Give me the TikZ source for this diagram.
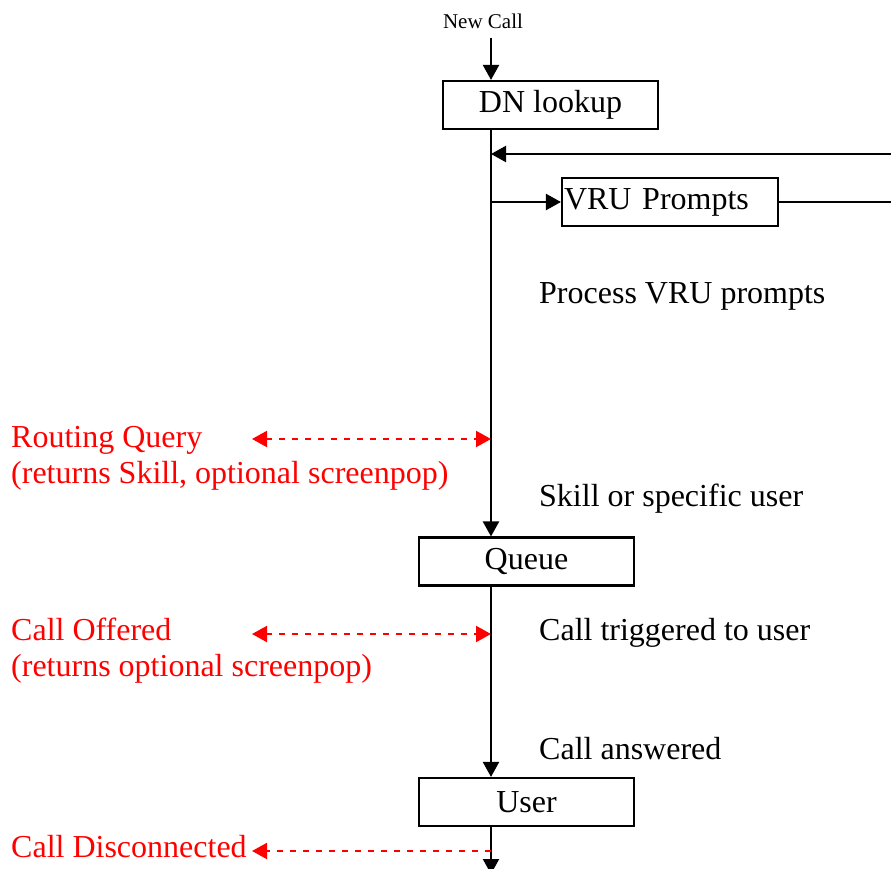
\documentclass[tikz,border=0pt]{standalone}
\usepackage{fontspec}
\setmainfont{Liberation Serif}
\usetikzlibrary{arrows.meta}
\definecolor{evred}{RGB}{255,0,0}
\tikzset{
  flowbox/.style={draw=black, line width=2.1pt, minimum width=215pt, minimum height=48pt,
    inner sep=0pt, font=\fontsize{32}{36}\selectfont},
  lbl/.style={anchor=base west, inner sep=0pt, font=\fontsize{32}{36}\selectfont},
  evlbl/.style={lbl, text=evred},
  flow/.style={draw=black, line width=2.1pt, -{Triangle[length=15pt,width=16pt]}},
  plain/.style={draw=black, line width=2.1pt},
  evarrow/.style={draw=evred, line width=2.1pt, dash pattern=on 6pt off 7pt,
    {Triangle[length=15pt,width=16pt]}-{Triangle[length=15pt,width=16pt]}},
  evout/.style={draw=evred, line width=2.1pt, dash pattern=on 6pt off 7pt,
    -{Triangle[length=15pt,width=16pt]}},
}
\begin{document}
\begin{tikzpicture}[x=1pt, y=-1pt]
\useasboundingbox (0,0) rectangle (891,869);
\clip (0,0) rectangle (891,869);

% vertical spine of the call flow
\coordinate (spine) at (491,0);

% step boxes
\node[flowbox] (dn) at (550.5,105) {DN lookup};
\node[flowbox, minimum width=216pt, text width=212pt, align=left, inner xsep=2pt] (vru) at (670,202) {VRU Prompts};
\node[flowbox] (queue) at (526.5,561.5) {Queue};
\node[flowbox] (user) at (526.5,802) {User};

% entry
\node[anchor=base, inner sep=0pt, font=\fontsize{21}{24}\selectfont] (newcall) at (483,29) {New Call};
\coordinate (ncTail) at (491,38);
\draw[flow] (ncTail) -- (dn.north -| spine);

% main flow
\draw[flow] (dn.south -| spine) -- (queue.north -| spine);
\draw[flow] (queue.south -| spine) -- (user.north -| spine);
\coordinate (bottomEnd) at (491,874);
\draw[flow] (user.south -| spine) -- (bottomEnd);

% VRU loop
\coordinate (loopIn) at (892,154);
\coordinate (loopOut) at (892,202);
\draw[flow] (loopIn) -- (spine |- loopIn);
\draw[flow] (spine |- vru.west) -- (vru.west);
\draw[plain] (vru.east) -- (loopOut);

% descriptions beside the flow
\node[lbl] (procvru) at (539,303) {Process VRU prompts};
\node[lbl] (skill) at (539,506) {Skill or specific user};
\node[lbl] (trig) at (539,640) {Call triggered to user};
\node[lbl] (answ) at (539,759) {Call answered};

% events
\node[evlbl] (rq) at (11,447) {Routing Query};
\node[evlbl] (rq2) at (11,483) {(returns Skill, optional screenpop)};
\coordinate (rqL) at (252,439);
\draw[evarrow] (rqL) -- (spine |- rqL);

\node[evlbl] (co) at (11,640) {Call Offered};
\node[evlbl] (co2) at (11,676) {(returns optional screenpop)};
\coordinate (coL) at (252,634);
\draw[evarrow] (coL) -- (spine |- coL);

\node[evlbl] (cd) at (11,857) {Call Disconnected};
\coordinate (cdL) at (252,851);
\draw[evout] (spine |- cdL) -- (cdL);
\end{tikzpicture}
\end{document}
